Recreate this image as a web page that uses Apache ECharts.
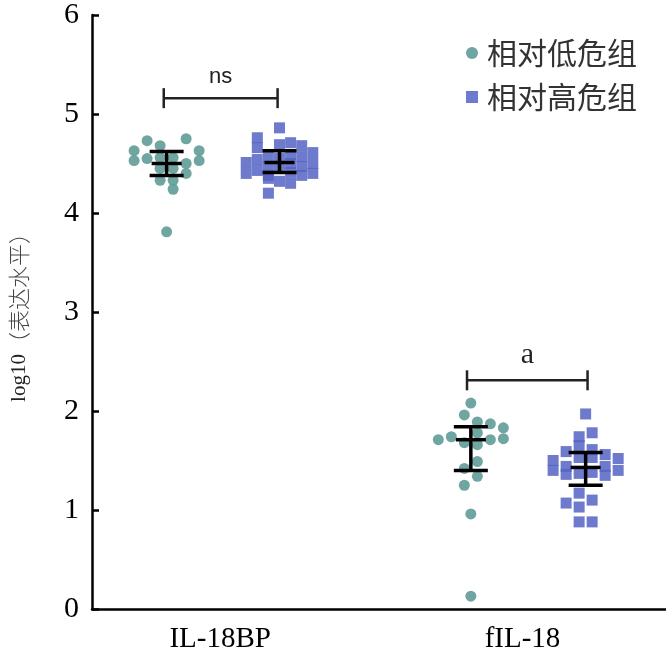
<!DOCTYPE html>
<html>
<head>
<meta charset="utf-8">
<script src="https://cdn.jsdelivr.net/npm/echarts@6/dist/echarts.min.js"></script>
<style>
  html, body { margin: 0; padding: 0; background: #fff; }
  #main { width: 666px; height: 661px; }
</style>
</head>
<body>
<div id="main"></div>
<script>
// 分类及位置（x 轴数值单位）
var categories = ["IL-18BP", "fIL-18"];
var categoryPos = [6.7, 22.5];
var lowCenter = [3.9, 19.8];
var highCenter = [9.8, 25.8];

// 相对低危组 - IL-18BP
var lowIL18BP = [4.75, 4.73, 4.68, 4.63, 4.63, 4.53, 4.55, 4.53, 4.50, 4.40, 4.56, 4.56, 4.45, 4.45, 4.33, 4.33, 4.24, 3.81];
var lowIL18BPCol = [1.5, -1.5, -0.5, -2.5, 2.5, -2.5, -1.5, 2.5, 1.5, 1.5, -0.5, 0.5, -0.5, 0.5, -0.5, 0.5, 0.5, 0];
// 相对低危组 - fIL-18
var lowFIL18 = [2.08, 1.96, 1.89, 1.87, 1.83, 1.72, 1.71, 1.74, 1.78, 1.71, 1.68, 1.66, 1.49, 1.42, 1.34, 1.25, 0.96, 0.13];
var lowFIL18Col = [0, -0.5, 0.5, 1.5, 2.5, 2.5, -2.5, -1.5, 0.5, 1.5, -0.5, 0.5, 0.5, -0.5, 0.5, -0.5, 0, 0];
// 相对高危组 - IL-18BP
var highIL18BP = [4.86, 4.76, 4.66, 4.69, 4.71, 4.68, 4.61, 4.50, 4.40, 4.51, 4.40, 4.54, 4.43, 4.56, 4.47, 4.38,
  4.59, 4.50, 4.41, 4.57, 4.47, 4.38, 4.35, 4.32, 4.30, 4.20, 4.55, 4.45];
var highIL18BPCol = [0, -2, -2, 0, 1, 2, 3, 3, 3, -3, -3, -2, -2, -1, -1, -1,
  1, 1, 1, 2, 2, 2, -1, 0, 1, -1, 0, 0];
// 相对高危组 - fIL-18
var highFIL18 = [1.97, 1.78, 1.74, 1.65, 1.59, 1.61, 1.56, 1.50, 1.52, 1.40, 1.40, 1.44, 1.44, 1.36, 1.37, 1.38,
  1.35, 1.53, 1.53, 1.17, 1.07, 1.03, 1.10, 0.88, 0.88];
var highFIL18Col = [0, 0.5, -0.5, -0.5, -1.5, 0.5, 1.5, -2.5, 2.5, -2.5, 2.5, -1.5, 1.5, -1.5, -0.5, 0.5,
  1.5, -0.5, 0.5, -0.5, -1.5, -0.5, 0.5, -0.5, 0.5];

// 误差线：[下限, 中值, 上限]
var lowBars = [[4.38, 4.50, 4.62], [1.40, 1.71, 1.84]];
var highBars = [[4.41, 4.51, 4.63], [1.25, 1.43, 1.58]];

// 显著性标记
var sigLabels = ["ns", "a"];
var sigFrom = [3.75, 19.6];
var sigTo = [9.7, 25.9];
var sigY = [5.16, 2.31];

var yTicks = [0, 1, 2, 3, 4, 5, 6];

var lowStep = 0.68;
var highStepIL = 0.58;
var highStepF = 0.68;

function swarm(values, cols, center, step) {
  var out = [];
  for (var i = 0; i < values.length; i++) {
    out.push([center + cols[i] * step, values[i]]);
  }
  return out;
}

var lowData = swarm(lowIL18BP, lowIL18BPCol, lowCenter[0], lowStep)
  .concat(swarm(lowFIL18, lowFIL18Col, lowCenter[1], lowStep));
var highData = swarm(highIL18BP, highIL18BPCol, highCenter[0], highStepIL)
  .concat(swarm(highFIL18, highFIL18Col, highCenter[1], highStepF));

var barData = [];
for (var k = 0; k < categories.length; k++) {
  barData.push([lowCenter[k]].concat(lowBars[k]));
  barData.push([highCenter[k]].concat(highBars[k]));
}
var sigData = [];
for (var s = 0; s < sigLabels.length; s++) {
  sigData.push([sigFrom[s], sigTo[s], sigY[s], sigLabels[s]]);
}

var serif = "'Times New Roman', 'Liberation Serif', serif";
var cjk = "'Noto Sans CJK SC', sans-serif";

var chart = echarts.init(document.getElementById("main"));
var option = {
  backgroundColor: "#fff",
  animation: false,
  grid: { left: 90, right: 0, top: 15, bottom: 52 },
  legend: {
    orient: "vertical",
    left: 461,
    top: 33,
    itemWidth: 12,
    itemHeight: 12,
    itemGap: 14,
    textStyle: { fontFamily: cjk, fontSize: 30, color: "#333", padding: [0, 0, 0, 4] },
    data: [
      { name: "相对低危组", icon: "circle" },
      { name: "相对高危组", icon: "rect" }
    ]
  },
  xAxis: {
    type: "value",
    min: 0,
    max: 30,
    splitLine: { show: false },
    axisTick: { show: false },
    axisLine: { lineStyle: { color: "#000", width: 2.5 } },
    axisLabel: {
      customValues: categoryPos,
      margin: 16,
      fontFamily: serif,
      fontSize: 29,
      color: "#000",
      formatter: function (v) {
        var idx = categoryPos.indexOf(v);
        return idx >= 0 ? categories[idx] : "";
      }
    }
  },
  yAxis: {
    type: "value",
    min: 0,
    max: 6,
    interval: 1,
    name: "{a|log10}{b|（表达水平）}",
    nameLocation: "middle",
    nameGap: 62,
    nameTextStyle: {
      color: "#222",
      rich: {
        a: { fontFamily: serif, fontSize: 21, color: "#222" },
        b: { fontFamily: cjk, fontSize: 22, color: "#444", fontWeight: 300 }
      }
    },
    splitLine: { show: false },
    axisLine: { show: true, lineStyle: { color: "#000", width: 2.5 } },
    axisTick: { show: true, inside: true, length: 7, lineStyle: { color: "#000", width: 2.5 } },
    axisLabel: {
      margin: 13,
      fontFamily: serif,
      fontSize: 30,
      color: "#000",
      formatter: function (v) { return yTicks.indexOf(v) >= 0 ? String(v) : ""; }
    }
  },
  series: [
    {
      name: "相对低危组",
      type: "scatter",
      symbol: "circle",
      symbolSize: 11,
      itemStyle: { color: "#5f9c98", opacity: 0.9 },
      data: lowData,
      z: 2
    },
    {
      name: "相对高危组",
      type: "scatter",
      symbol: "rect",
      symbolSize: 11,
      itemStyle: { color: "#5563c3", opacity: 0.85 },
      data: highData,
      z: 2
    },
    {
      type: "custom",
      z: 5,
      data: barData,
      renderItem: function (params, api) {
        var x = api.value(0);
        var lo = api.coord([x, api.value(1)]);
        var mid = api.coord([x, api.value(2)]);
        var hi = api.coord([x, api.value(3)]);
        var half = 17;
        var st = { stroke: "#000", lineWidth: 3.5 };
        return {
          type: "group",
          children: [
            { type: "line", shape: { x1: lo[0], y1: lo[1], x2: hi[0], y2: hi[1] }, style: st },
            { type: "line", shape: { x1: lo[0] - half, y1: lo[1], x2: lo[0] + half, y2: lo[1] }, style: st },
            { type: "line", shape: { x1: mid[0] - half + 2, y1: mid[1], x2: mid[0] + half - 2, y2: mid[1] }, style: st },
            { type: "line", shape: { x1: hi[0] - half, y1: hi[1], x2: hi[0] + half, y2: hi[1] }, style: st }
          ]
        };
      }
    },
    {
      type: "custom",
      z: 5,
      data: sigData,
      renderItem: function (params, api) {
        var a = api.coord([api.value(0), api.value(2)]);
        var b = api.coord([api.value(1), api.value(2)]);
        var label = sigLabels[params.dataIndex];
        var st = { stroke: "#222", lineWidth: 2.5 };
        var isNs = label === "ns";
        return {
          type: "group",
          children: [
            { type: "line", shape: { x1: a[0], y1: a[1], x2: b[0], y2: b[1] }, style: st },
            { type: "line", shape: { x1: a[0], y1: a[1] - 10, x2: a[0], y2: a[1] + 10 }, style: st },
            { type: "line", shape: { x1: b[0], y1: b[1] - 10, x2: b[0], y2: b[1] + 10 }, style: st },
            {
              type: "text",
              style: {
                x: (a[0] + b[0]) / 2,
                y: a[1] - 10,
                text: label,
                align: "center",
                verticalAlign: "bottom",
                fill: "#222",
                font: isNs ? "22px 'Liberation Sans', Arial, sans-serif" : "30px 'Liberation Serif', serif"
              }
            }
          ]
        };
      }
    }
  ]
};
chart.setOption(option);
</script>
</body>
</html>
